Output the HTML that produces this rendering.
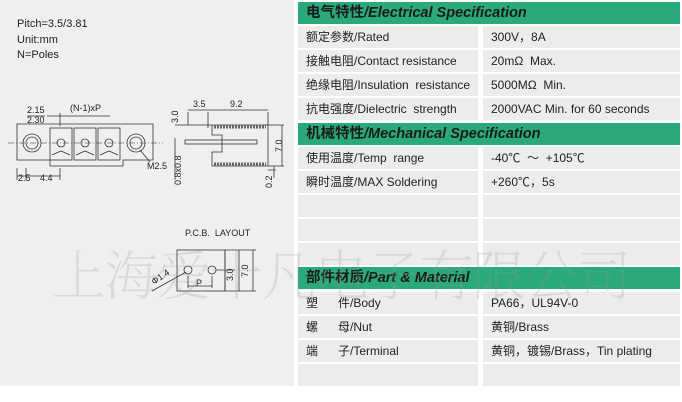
<!DOCTYPE html>
<html><head><meta charset="utf-8"><style>
*{margin:0;padding:0;box-sizing:border-box}
body{width:682px;height:402px;background:#fff;position:relative;overflow:hidden;font-family:"Liberation Sans","Noto Sans CJK SC",sans-serif}
#left{position:absolute;left:0;top:0;width:294px;height:386px;background:#efefef}
.r{position:absolute;height:22px;font-size:12px;line-height:22px;color:#222;background:#ececec;padding-left:8px;white-space:pre}
.h{position:absolute;left:298px;width:382px;height:22px;background:#2aa97a;color:#1b1b1b;font-size:14.5px;line-height:22px;padding-left:8px;font-weight:bold}
.h i{font-style:italic}
.a{left:298px;width:180px}
.b{left:483px;width:197px}
#wm{position:absolute;left:52px;top:238px;font-family:"Noto Serif CJK SC","WenQuanYi Zen Hei",serif;font-size:54px;letter-spacing:-1.5px;color:rgba(150,150,150,0.25);font-weight:200;white-space:nowrap;line-height:70px}
</style></head><body>
<div id="left"></div>
<svg style="position:absolute;left:0;top:0" width="296" height="386" font-family="Liberation Sans,sans-serif" fill="none" stroke="#333" stroke-width="0.8">
<g fill="#222" stroke="none" font-size="11">
<text x="17" y="27">Pitch=3.5/3.81</text>
<text x="17" y="43">Unit:mm</text>
<text x="17" y="58">N=Poles</text>
<text x="27" y="113" font-size="9">2.15</text>
<text x="27" y="123" font-size="9">2.30</text>
<text x="70" y="111" font-size="9">(N-1)xP</text>
<text x="147" y="169" font-size="9">M2.5</text>
<text x="18" y="181" font-size="9">2.5</text>
<text x="40" y="181" font-size="9">4.4</text>
<text x="193" y="107" font-size="9">3.5</text>
<text x="230" y="107" font-size="9">9.2</text>
<text x="185" y="236" font-size="9">P.C.B.&#160;&#160;LAYOUT</text>
<text x="196" y="286" font-size="9">P</text>
<text transform="translate(178,123) rotate(-90)" font-size="9">3.0</text>
<text transform="translate(181,185) rotate(-90)" font-size="9">0.8x0.8</text>
<text transform="translate(282,152) rotate(-90)" font-size="9">7.0</text>
<text transform="translate(272,188) rotate(-90)" font-size="9">0.2</text>
<text transform="translate(233,281) rotate(-90)" font-size="9">3.0</text>
<text transform="translate(248,277) rotate(-90)" font-size="9">7.0</text>
<text transform="translate(154,285) rotate(-35)" font-size="9">Φ1.4</text>
</g>
<path d="M17 124H153V160H123V166H50V160H17Z"/>
<line x1="8" y1="143" x2="163" y2="143" stroke-dasharray="6,2,1,2" stroke-width="0.6"/>
<circle cx="32" cy="143" r="9"/><circle cx="32" cy="143" r="6"/>
<circle cx="136" cy="143" r="9"/><circle cx="136" cy="143" r="6"/>
<g>
<rect x="50" y="128" width="22" height="32"/><rect x="74" y="128" width="22" height="32"/><rect x="98" y="128" width="22" height="32"/>
<circle cx="61" cy="143" r="4"/><circle cx="85" cy="143" r="4"/><circle cx="109" cy="143" r="4"/>
<path d="M52 155L61 151L70 155M76 155L85 151L94 155M100 155L109 151L118 155"/>
</g>
<path d="M27 116H45M47 116H110M60 113V126M17 176H60M17 168V180M26 168V180M60 168V180M140 150L150 162"/>
<path d="M188 112V125M208 112V128M268 112V125M188 110H268"/>
<path d="M212 125H268V166H212V152H222V135H212Z"/>
<path d="M214 127H266M214 164H266" stroke="#666" stroke-width="3" stroke-dasharray="2,1"/>
<rect x="185" y="140" width="72" height="4"/>
<path d="M175 125H212M175 141V138M268 125H284M268 166H284M282 125V166M268 170H276M274 166V178M175 140V180"/>
<rect x="177" y="250" width="48" height="41"/>
<line x1="225" y1="250" x2="225" y2="291"/>
<circle cx="188" cy="270" r="4"/><circle cx="212" cy="270" r="4"/>
<path d="M216 270H235M225 250H256M225 291H256M239 250V291M253 250V291M188 276V288M212 276V288M188 286H212M186 272L152 291"/>
</svg>
<div class="h" style="top:2px">电气特性<i>/Electrical Specification</i></div>
<div class="r a" style="top:26px">额定参数/Rated</div><div class="r b" style="top:26px">300V，8A</div>
<div class="r a" style="top:50px">接触电阻/Contact resistance</div><div class="r b" style="top:50px">20mΩ  Max.</div>
<div class="r a" style="top:74px">绝缘电阻/Insulation  resistance</div><div class="r b" style="top:74px">5000MΩ  Min.</div>
<div class="r a" style="top:98px">抗电强度/Dielectric  strength</div><div class="r b" style="top:98px">2000VAC Min. for 60 seconds</div>
<div class="h" style="top:123px">机械特性<i>/Mechanical Specification</i></div>
<div class="r a" style="top:147px">使用温度/Temp  range</div><div class="r b" style="top:147px">-40℃  ～  +105℃</div>
<div class="r a" style="top:171px">瞬时温度/MAX Soldering</div><div class="r b" style="top:171px">+260℃，5s</div>
<div class="r a" style="top:195px"></div><div class="r b" style="top:195px"></div>
<div class="r a" style="top:219px"></div><div class="r b" style="top:219px"></div>
<div class="r a" style="top:243px"></div><div class="r b" style="top:243px"></div>
<div class="h" style="top:267px">部件材质<i>/Part &amp; Material</i></div>
<div class="r a" style="top:292px">塑      件/Body</div><div class="r b" style="top:292px">PA66，UL94V-0</div>
<div class="r a" style="top:316px">螺      母/Nut</div><div class="r b" style="top:316px">黄铜/Brass</div>
<div class="r a" style="top:340px">端      子/Terminal</div><div class="r b" style="top:340px">黄铜，镀锡/Brass，Tin plating</div>
<div class="r a" style="top:364px"></div><div class="r b" style="top:364px"></div>
<div id="wm">上海爱十凡电子有限公司</div>
</body></html>
